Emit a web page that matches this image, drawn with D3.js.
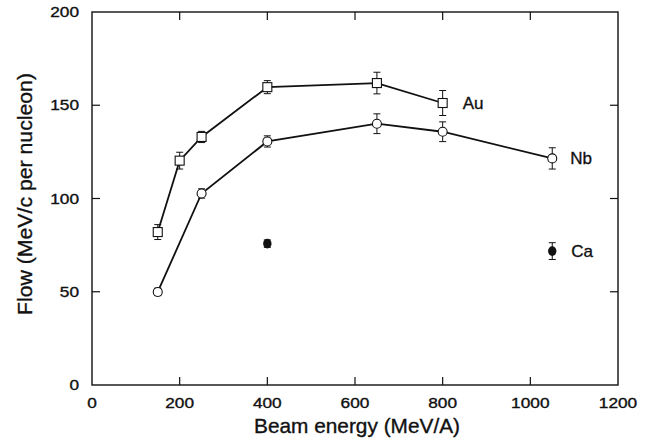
<!DOCTYPE html>
<html><head><meta charset="utf-8">
<script src="https://cdn.jsdelivr.net/npm/d3@7/dist/d3.min.js"></script>
<style>
body{margin:0;background:#fff;}
text{font-family:"Liberation Sans",Arial,sans-serif;fill:#111;stroke:#111;stroke-width:0.35px;}
</style></head>
<body><svg id="c" width="646" height="440"></svg>
<script>
const xTicks = [0,200,400,600,800,1000,1200];
const yTicks = [0,50,100,150,200];
const auEnergy = [150,200,250,400,650,800];
const auFlow   = [82,120.3,133,159.7,161.9,151.2];
const auErr    = [4,4.5,3,3.5,5.8,6.7];
const nbEnergy = [150,250,400,650,800,1050];
const nbFlow   = [49.9,102.7,130.6,140.1,135.8,121.5];
const nbErr    = [2,2.5,3,5.3,5.3,5.7];
const caEnergy = [400,1050];
const caFlow   = [75.8,71.8];
const caErr    = [2,4.5];
const labels = [{name:"Au",x:800,y:151.2},{name:"Nb",x:1050,y:121.5},{name:"Ca",x:1050,y:71.8}];

const svg = d3.select("#c");
const L=92,R=618,T=12,B=385;
const x = d3.scaleLinear().domain([0,1200]).range([L,R]);
const y = d3.scaleLinear().domain([0,200]).range([B,T]);
const ink="#111";

svg.append("rect").attr("x",L).attr("y",T).attr("width",R-L).attr("height",B-T)
  .attr("fill","none").attr("stroke",ink).attr("stroke-width",1.4);

const tl=8;
const inner = xTicks.filter(d=>d>0&&d<1200);
const innerY = yTicks.filter(d=>d>0&&d<200);
svg.append("g").selectAll("line").data(inner).join("line")
  .attr("x1",d=>x(d)).attr("x2",d=>x(d)).attr("y1",B).attr("y2",B-tl).attr("stroke",ink).attr("stroke-width",1.2);
svg.append("g").selectAll("line").data(inner).join("line")
  .attr("x1",d=>x(d)).attr("x2",d=>x(d)).attr("y1",T).attr("y2",T+tl).attr("stroke",ink).attr("stroke-width",1.2);
svg.append("g").selectAll("line").data(innerY).join("line")
  .attr("x1",L).attr("x2",L+tl).attr("y1",d=>y(d)).attr("y2",d=>y(d)).attr("stroke",ink).attr("stroke-width",1.2);
svg.append("g").selectAll("line").data(innerY).join("line")
  .attr("x1",R).attr("x2",R-tl).attr("y1",d=>y(d)).attr("y2",d=>y(d)).attr("stroke",ink).attr("stroke-width",1.2);

svg.append("g").selectAll("text").data(xTicks).join("text")
  .attr("x",d=>x(d)).attr("y",408).attr("text-anchor","middle")
  .attr("font-size",14).attr("textLength",d=>String(d).length*9.6).attr("lengthAdjust","spacingAndGlyphs").text(d=>d);
svg.append("g").selectAll("text").data(yTicks).join("text")
  .attr("x",79).attr("y",d=>y(d)+5).attr("text-anchor","end")
  .attr("font-size",14).attr("textLength",d=>String(d).length*9.6).attr("lengthAdjust","spacingAndGlyphs").text(d=>d);

svg.append("text").attr("x",357).attr("y",433).attr("text-anchor","middle")
  .attr("font-size",21).attr("textLength",206).attr("lengthAdjust","spacingAndGlyphs").text("Beam energy (MeV/A)");
svg.append("text").attr("transform","translate(32,194) rotate(-90)").attr("text-anchor","middle")
  .attr("font-size",21).attr("textLength",242).attr("lengthAdjust","spacingAndGlyphs").text("Flow (MeV/c per nucleon)");

function errorBars(ex,fy,er){
  const g=svg.append("g");
  ex.forEach((e,i)=>{
    const cx=x(e), y1=y(fy[i]-er[i]), y2=y(fy[i]+er[i]);
    g.append("line").attr("x1",cx).attr("x2",cx).attr("y1",y1).attr("y2",y2).attr("stroke",ink).attr("stroke-width",1);
    [y1,y2].forEach(yy=>g.append("line").attr("x1",cx-3.5).attr("x2",cx+3.5).attr("y1",yy).attr("y2",yy).attr("stroke",ink).attr("stroke-width",1));
  });
}
const line = d3.line().x(d=>x(d[0])).y(d=>y(d[1]));

errorBars(auEnergy,auFlow,auErr);
errorBars(nbEnergy,nbFlow,nbErr);
errorBars(caEnergy,caFlow,caErr);

svg.append("path").attr("d",line(auEnergy.map((e,i)=>[e,auFlow[i]])))
  .attr("fill","none").attr("stroke",ink).attr("stroke-width",1.8);
svg.append("path").attr("d",line(nbEnergy.map((e,i)=>[e,nbFlow[i]])))
  .attr("fill","none").attr("stroke",ink).attr("stroke-width",1.8);

const s=9;
svg.append("g").selectAll("rect").data(auEnergy).join("rect")
  .attr("x",(d)=>x(d)-s/2).attr("y",(d,i)=>y(auFlow[i])-s/2).attr("width",s).attr("height",s)
  .attr("fill","#fff").attr("stroke",ink).attr("stroke-width",1.1);
svg.append("g").selectAll("circle").data(nbEnergy).join("circle")
  .attr("cx",d=>x(d)).attr("cy",(d,i)=>y(nbFlow[i])).attr("r",4.5)
  .attr("fill","#fff").attr("stroke",ink).attr("stroke-width",1.1);
svg.append("g").selectAll("ellipse").data(caEnergy).join("ellipse")
  .attr("cx",d=>x(d)).attr("cy",(d,i)=>y(caFlow[i])).attr("rx",4.2).attr("ry",4.8)
  .attr("fill",ink);

const lblOff={Au:20,Nb:18,Ca:19};
svg.append("g").selectAll("text").data(labels).join("text")
  .attr("x",d=>x(d.x)+lblOff[d.name]).attr("y",d=>y(d.y)+6)
  .attr("font-size",17).text(d=>d.name);
</script></body></html>
